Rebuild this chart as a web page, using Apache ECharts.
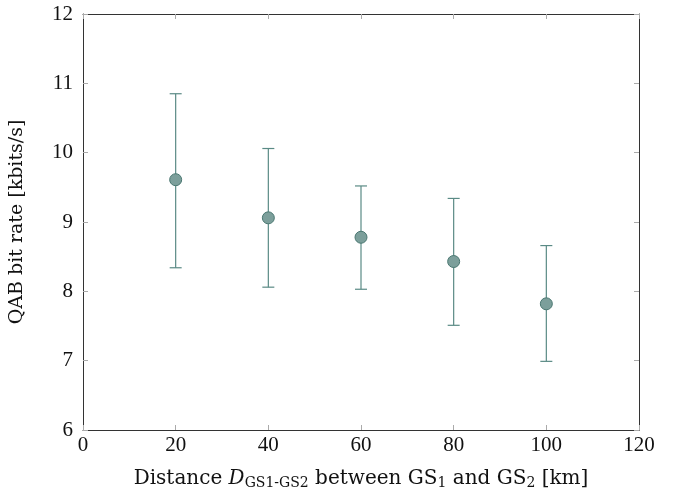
<!DOCTYPE html>
<html><head><meta charset="utf-8">
<script src="https://cdn.jsdelivr.net/npm/echarts@6/dist/echarts.min.js"></script>
<style>html,body{margin:0;padding:0;background:#fff}#c{width:680px;height:494px}</style>
</head><body><div id="c"></div>
<script>
const distances = [20, 40, 60, 80, 100];
const rates = [9.61, 9.06, 8.78, 8.43, 7.82];
const lowerBounds = [8.34, 8.06, 8.03, 7.51, 6.99];
const upperBounds = [10.85, 10.06, 9.52, 9.34, 8.66];
const xTicks = [0, 20, 40, 60, 80, 100, 120];
const yTicks = [6, 7, 8, 9, 10, 11, 12];

const font = 'Liberation Serif';
const labFont = 'DejaVu Serif';
const chart = echarts.init(document.getElementById('c'), null, {renderer: 'canvas'});
const errData = distances.map((d, i) => [d, lowerBounds[i], upperBounds[i]]);
const ptData = distances.map((d, i) => [d, rates[i]]);
const lineCol = '#5a8a85';

const axisCommon = {
  axisLine: {show: true, onZero: false, lineStyle: {color: '#333', width: 1}},
  axisTick: {show: true, inside: true, length: 5, lineStyle: {color: '#aaa'}},
  splitLine: {show: false}
};

chart.setOption({
  animation: false,
  grid: {left: 83, right: 41, top: 14, bottom: 64, containLabel: false, outerBoundsMode: 'none'},
  xAxis: [
    Object.assign({type: 'value', min: xTicks[0], max: xTicks[xTicks.length - 1], interval: 20, position: 'bottom',
      name: '{n|Distance }{i|D}{s|GS1-GS2}{n| between GS}{s|1}{n| and GS}{s|2}{n| [km]}',
      nameLocation: 'middle', nameGap: 37,
      nameTextStyle: {rich: {
        n: {fontFamily: labFont, fontSize: 20, color: '#111'},
        i: {fontFamily: labFont, fontSize: 20, fontStyle: 'italic', color: '#111'},
        s: {fontFamily: labFont, fontSize: 14, color: '#111', verticalAlign: 'bottom', padding: [9, 0, 0, 0]}
      }},
      axisLabel: {fontFamily: font, fontSize: 21, color: '#111', margin: 5}
    }, axisCommon),
    Object.assign({type: 'value', min: xTicks[0], max: xTicks[xTicks.length - 1], interval: 20, position: 'top',
      axisLabel: {show: false}}, axisCommon)
  ],
  yAxis: [
    Object.assign({type: 'value', min: yTicks[0], max: yTicks[yTicks.length - 1], interval: 1, position: 'left',
      name: 'QAB bit rate [kbits/s]', nameLocation: 'middle', nameGap: 56,
      nameTextStyle: {fontFamily: labFont, fontSize: 19, color: '#111'},
      axisLabel: {fontFamily: font, fontSize: 21, color: '#111', margin: 10}
    }, axisCommon),
    Object.assign({type: 'value', min: yTicks[0], max: yTicks[yTicks.length - 1], interval: 1, position: 'right',
      axisLabel: {show: false}}, axisCommon)
  ],
  series: [
    {
      type: 'custom',
      xAxisIndex: 0, yAxisIndex: 0,
      data: errData,
      renderItem: function (params, api) {
        const x = api.value(0);
        const lo = api.coord([x, api.value(1)]);
        const hi = api.coord([x, api.value(2)]);
        const w = 6;
        const st = {stroke: lineCol, lineWidth: 1.2};
        return {type: 'group', children: [
          {type: 'line', shape: {x1: lo[0], y1: lo[1], x2: hi[0], y2: hi[1]}, style: st},
          {type: 'line', shape: {x1: lo[0] - w, y1: lo[1], x2: lo[0] + w, y2: lo[1]}, style: st},
          {type: 'line', shape: {x1: hi[0] - w, y1: hi[1], x2: hi[0] + w, y2: hi[1]}, style: st}
        ]};
      },
      z: 2
    },
    {
      type: 'scatter',
      xAxisIndex: 0, yAxisIndex: 0,
      data: ptData,
      symbol: 'circle', symbolSize: 12,
      itemStyle: {color: '#7c9f9b', borderColor: '#4a7771', borderWidth: 1, opacity: 1},
      z: 3
    }
  ]
});
</script></body></html>
